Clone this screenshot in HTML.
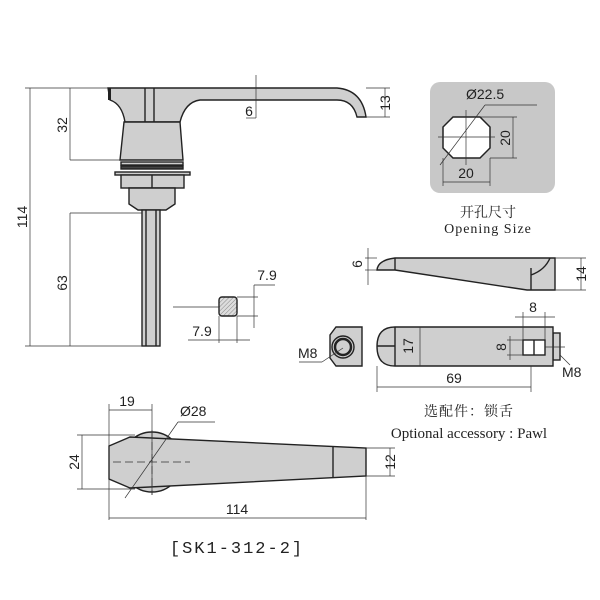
<!DOCTYPE html>
<html><head><meta charset="utf-8"><style>html,body{margin:0;padding:0;background:#fff}svg{display:block}</style></head>
<body>
<svg width="600" height="600" viewBox="0 0 600 600" xmlns="http://www.w3.org/2000/svg" font-family="Liberation Sans, sans-serif">
<defs>
<pattern id="h" width="3" height="3" patternUnits="userSpaceOnUse" patternTransform="rotate(45)"><rect width="3" height="3" fill="#ddd"/><line x1="0" y1="0" x2="0" y2="3" stroke="#888" stroke-width="1"/></pattern>
</defs>
<g stroke="#222" stroke-width="1.4" fill="#cfcfcf">
<!-- handle side view -->
<path d="M108,88 L337,88 Q362,90 366,117 L357,117 Q353,100 337,100 L200,100 Q185,102 180,122 L125,122 Q122,104 110,100 Z"/>
<rect x="108" y="88" width="3" height="12" fill="#222" stroke="none"/>
<line x1="145" y1="88" x2="145" y2="122"/><line x1="154" y1="88" x2="154" y2="122"/>
<path d="M124,122 L180,122 L183,160 L120,160 Z"/>
<rect x="121" y="162" width="62" height="3"/><rect x="121" y="166" width="62" height="3" fill="#444"/>
<rect x="115" y="172" width="75" height="3"/>
<rect x="121" y="175" width="63" height="13"/><line x1="152" y1="175" x2="152" y2="188"/>
<path d="M129,188 L175,188 L175,204 L166,210 L138,210 L129,204 Z"/>
<rect x="142" y="210" width="18" height="136"/>
<line x1="146" y1="210" x2="146" y2="346"/><line x1="156" y1="210" x2="156" y2="346"/>
<!-- square -->
<rect x="219" y="297" width="18" height="19" rx="3" fill="url(#h)"/>
<!-- pawl side -->
<path d="M377,270 Q378,260 395,258 L555,258 L555,290 L527,290 L395,270 Z"/>
<line x1="395" y1="258" x2="395" y2="270"/>
<path d="M531,268 L531,290 M531,275 Q545,270 550,258" fill="none"/>
<!-- nut -->
<path d="M336,327 L362,327 L362,366 L336,366 L330,358 L330,335 Z"/>
<circle cx="343" cy="347" r="11" fill="#cfcfcf"/><circle cx="343" cy="347" r="8" stroke-width="2.5"/>
<!-- pawl top -->
<rect x="553" y="333" width="7" height="27"/>
<path d="M395,327 L553,327 L553,366 L395,366 Q377,366 377,346.5 Q377,327 395,327 Z"/>
<line x1="395" y1="327" x2="395" y2="366"/><line x1="377" y1="346" x2="395" y2="346"/>
<rect x="523" y="340" width="22" height="15" fill="#fff"/><line x1="534" y1="340" x2="534" y2="355"/>
<!-- handle top view -->
<circle cx="152" cy="462" r="30"/>
<path d="M109,446 L130,437 L366,448 L366,476 L130,488 L109,479 Z"/>
<line x1="333" y1="447" x2="333" y2="477"/>
</g>
<!-- opening size -->
<rect x="430" y="82" width="125" height="111" rx="10" fill="#c8c8c8"/>
<path d="M453,117 L480,117 L490,127 L490,148 L480,158 L453,158 L443,148 L443,127 Z" fill="#fff" stroke="#222" stroke-width="1.5"/>
<g stroke="#333" stroke-width="0.7" fill="none">
<line x1="438" y1="137" x2="495" y2="137"/><line x1="466" y1="110" x2="466" y2="165"/>
<line x1="440" y1="165" x2="485" y2="105"/><line x1="485" y1="105" x2="537" y2="105"/>
<line x1="480" y1="117" x2="517" y2="117"/><line x1="490" y1="158" x2="517" y2="158"/><line x1="513" y1="117" x2="513" y2="158"/>
<line x1="443" y1="158" x2="443" y2="186"/><line x1="490" y1="158" x2="490" y2="186"/><line x1="443" y1="182" x2="490" y2="182"/>
<line x1="25" y1="88" x2="108" y2="88"/><line x1="25" y1="346" x2="142" y2="346"/><line x1="30" y1="88" x2="30" y2="346"/>
<line x1="70" y1="88" x2="70" y2="160"/><line x1="70" y1="160" x2="120" y2="160"/>
<line x1="70" y1="213" x2="70" y2="346"/><line x1="70" y1="213" x2="142" y2="213"/>
<line x1="256" y1="75" x2="256" y2="118"/><line x1="246" y1="118" x2="256" y2="118"/>
<line x1="366" y1="88" x2="390" y2="88"/><line x1="366" y1="117" x2="390" y2="117"/><line x1="385" y1="88" x2="385" y2="117"/>
<line x1="173" y1="307" x2="219" y2="307"/>
<line x1="237" y1="297" x2="258" y2="297"/><line x1="237" y1="316" x2="258" y2="316"/><line x1="254" y1="285" x2="254" y2="328"/><line x1="254" y1="285" x2="275" y2="285"/>
<line x1="219" y1="316" x2="219" y2="343"/><line x1="237" y1="316" x2="237" y2="343"/><line x1="188" y1="340" x2="250" y2="340"/>
<line x1="365" y1="258" x2="377" y2="258"/><line x1="365" y1="270" x2="377" y2="270"/><line x1="368" y1="248" x2="368" y2="285"/>
<line x1="555" y1="258" x2="586" y2="258"/><line x1="555" y1="290" x2="586" y2="290"/><line x1="581" y1="258" x2="581" y2="290"/>
<line x1="377" y1="366" x2="377" y2="392"/><line x1="531" y1="366" x2="531" y2="392"/><line x1="377" y1="387" x2="531" y2="387"/>
<line x1="523" y1="312" x2="523" y2="340"/><line x1="545" y1="312" x2="545" y2="340"/><line x1="515" y1="317" x2="555" y2="317"/>
<line x1="507" y1="340" x2="523" y2="340"/><line x1="507" y1="355" x2="523" y2="355"/><line x1="510" y1="336" x2="510" y2="360"/>
<line x1="420" y1="327" x2="420" y2="366"/>
<line x1="545" y1="347" x2="565" y2="347"/>
<line x1="560" y1="355" x2="570" y2="365"/>
<line x1="299" y1="362" x2="322" y2="362"/><line x1="322" y1="362" x2="343" y2="348"/>
<line x1="109" y1="404" x2="109" y2="520"/><line x1="152" y1="404" x2="152" y2="495"/><line x1="109" y1="410" x2="152" y2="410"/>
<line x1="77" y1="435" x2="135" y2="435"/><line x1="77" y1="489" x2="135" y2="489"/><line x1="82" y1="435" x2="82" y2="489"/>
<line x1="366" y1="476" x2="366" y2="520"/><line x1="109" y1="518" x2="366" y2="518"/>
<line x1="366" y1="448" x2="395" y2="448"/><line x1="366" y1="476" x2="395" y2="476"/><line x1="390" y1="448" x2="390" y2="476"/>
<line x1="125" y1="498" x2="178" y2="422"/><line x1="178" y1="422" x2="215" y2="422"/>
</g>
<g stroke="#333" stroke-width="0.8" stroke-dasharray="8,4" fill="none">
<line x1="113" y1="462" x2="190" y2="462"/><line x1="152" y1="430" x2="152" y2="495"/>
</g>
<g fill="#222" font-size="14">
<text x="466" y="99">Ø22.5</text>
<text transform="translate(510,138) rotate(-90)" text-anchor="middle">20</text>
<text x="466" y="178" text-anchor="middle">20</text>
<text transform="translate(27,217) rotate(-90)" text-anchor="middle">114</text>
<text transform="translate(67,125) rotate(-90)" text-anchor="middle">32</text>
<text transform="translate(67,283) rotate(-90)" text-anchor="middle">63</text>
<text x="249" y="116" text-anchor="middle">6</text>
<text transform="translate(390,103) rotate(-90)" text-anchor="middle">13</text>
<text x="267" y="280" text-anchor="middle">7.9</text>
<text x="202" y="336" text-anchor="middle">7.9</text>
<text transform="translate(362,264) rotate(-90)" text-anchor="middle">6</text>
<text transform="translate(586,274) rotate(-90)" text-anchor="middle">14</text>
<text x="533" y="312" text-anchor="middle">8</text>
<text transform="translate(506,347) rotate(-90)" text-anchor="middle">8</text>
<text transform="translate(413,346) rotate(-90)" text-anchor="middle">17</text>
<text x="454" y="383" text-anchor="middle">69</text>
<text x="298" y="358">M8</text>
<text x="562" y="377">M8</text>
<text x="127" y="406" text-anchor="middle">19</text>
<text x="180" y="416">Ø28</text>
<text transform="translate(79,462) rotate(-90)" text-anchor="middle">24</text>
<text transform="translate(395,462) rotate(-90)" text-anchor="middle">12</text>
<text x="237" y="514" text-anchor="middle">114</text>
<text x="237" y="553" text-anchor="middle" font-size="17" letter-spacing="2" font-family="Liberation Mono, monospace">[SK1-312-2]</text>
<text x="488" y="217" text-anchor="middle" font-family="Liberation Serif, Noto Serif CJK SC, serif">开孔尺寸</text>
<text x="488" y="233" text-anchor="middle" font-family="Liberation Serif, serif" letter-spacing="1">Opening Size</text>
<text x="469" y="416" text-anchor="middle" font-family="Liberation Serif, Noto Serif CJK SC, serif" letter-spacing="1">选配件：锁舌</text>
<text x="469" y="438" text-anchor="middle" font-family="Liberation Serif, serif" font-size="15">Optional accessory : Pawl</text>
</g>
</svg>
</body></html>
